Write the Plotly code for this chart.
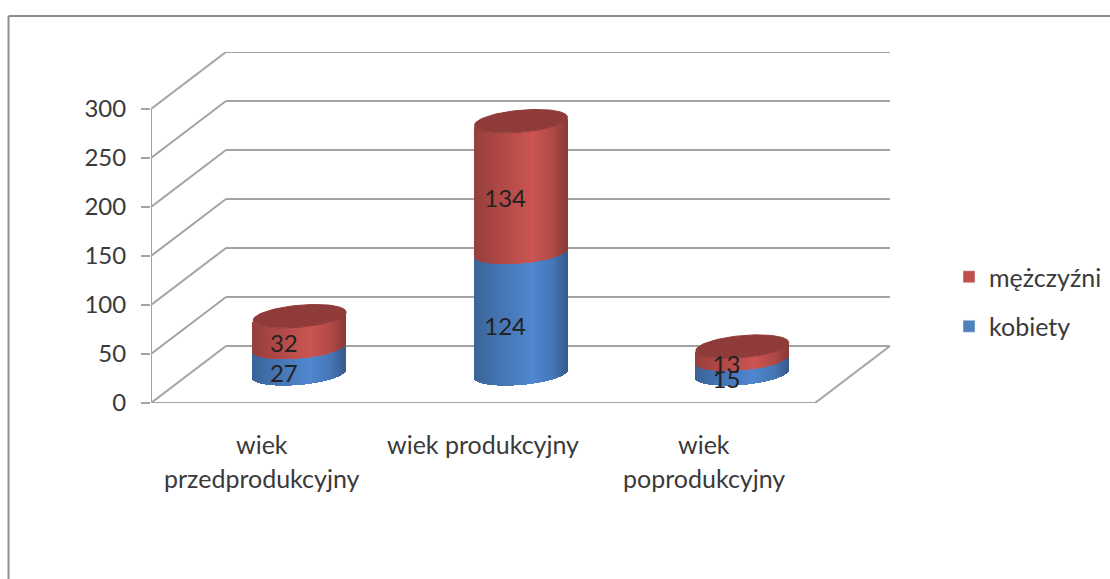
import plotly.graph_objects as go
import numpy as np

categories = ["wiek<br>przedprodukcyjny", "wiek produkcyjny", "wiek<br>poprodukcyjny"]
kobiety = [27, 124, 15]
mezczyzni = [32, 134, 13]
y_ticks = [0, 50, 100, 150, 200, 250, 300]

W, H = 1110, 579
L, R, T, B = 151, 891, 52, 403          # plot box in page pixels
PX_X = 221.33                           # pixels per category
PX_Y = 0.98                             # pixels per value unit
DX, DY = 75 / PX_X, 57 / PX_Y           # depth of the 3D box, data units
GRID = "#a3a3a3"

x_rng = [0, (R - L) / PX_X]
y_rng = [0, (B - T) / PX_Y]


def shade(rgb, t):
    """t from -1 to 1 across the cylinder face."""
    pts = [-1, -0.6, 0.25, 0.7, 1]
    fac = [0.78, 0.88, 1.06, 0.92, 0.72]
    f = float(np.interp(t, pts, fac))
    return "rgb(%d,%d,%d)" % tuple(min(255, int(c * f)) for c in rgb)


RED = (192, 80, 77)
BLUE = (76, 128, 196)
RED_TOP = "#8f3b39"

A = 46.5 / PX_X          # half width of cylinder
B_Y = 11 / PX_Y          # ellipse half height
K_Y = 4 / PX_Y           # ellipse tilt
BASE = 29 / PX_Y         # floor position of base centre
OFF_X = 38 / PX_X        # cylinder centre shift from the front category centre
STRIP = 1 / PX_X

fig = go.Figure()


def segment(color, bottoms, values):
    xs, bases, ys, cols = [], [], [], []
    for i, (b, v) in enumerate(zip(bottoms, values)):
        cx = i + 0.5 + OFF_X
        for u in np.arange(-1 + STRIP / A / 2, 1, STRIP / A):
            arc = -B_Y * np.sqrt(max(0, 1 - u * u)) + K_Y * u
            xs.append(cx + u * A)
            bases.append(BASE + b + arc)
            ys.append(v)
            cols.append(shade(color, u))
    fig.add_trace(go.Bar(x=xs, y=ys, base=bases, width=STRIP * 1.4,
                         marker=dict(color=cols, line=dict(width=0)),
                         showlegend=False, hoverinfo="skip"))


segment(BLUE, [0, 0, 0], kobiety)
segment(RED, kobiety, mezczyzni)

# top caps
for i, (k, m) in enumerate(zip(kobiety, mezczyzni)):
    th = np.linspace(0, 2 * np.pi, 90)
    cx = i + 0.5 + OFF_X
    fig.add_trace(go.Scatter(
        x=cx + A * np.cos(th),
        y=BASE + k + m + B_Y * np.sin(th) + K_Y * np.cos(th),
        mode="lines", fill="toself", fillcolor=RED_TOP,
        line=dict(width=1, color=RED_TOP), showlegend=False, hoverinfo="skip"))

# value labels
lab_x, lab_y, lab_t = [], [], []
for i, (k, m) in enumerate(zip(kobiety, mezczyzni)):
    lab_x += [i + 0.6, i + 0.6]
    lab_y += [k / 2 + 14, k + m / 2 + 15]
    lab_t += [str(k), str(m)]
fig.add_trace(go.Scatter(x=lab_x, y=lab_y, text=lab_t, mode="text",
                         textfont=dict(family="Lato", size=24, color="#222222"),
                         showlegend=False, hoverinfo="skip"))

# legend entries
fig.add_trace(go.Bar(x=[None], y=[None], name="mężczyźni", marker_color="#c0504d", legendgroup="m"))
fig.add_trace(go.Bar(x=[None], y=[None], name="kobiety", marker_color="#4f81bd", legendgroup="k"))

# 3D box, below the marks
shapes = []


def seg(x0, y0, x1, y1):
    shapes.append(dict(type="line", xref="x", yref="y", x0=x0, y0=y0, x1=x1, y1=y1,
                       layer="below", line=dict(color=GRID, width=2)))


for v in y_ticks:
    seg(0, v, DX, v + DY)
    seg(DX, v + DY, 3 + DX, v + DY)
seg(0, 0, 0, 300)
seg(0, 0, 3, 0)
seg(3, 0, 3 + DX, DY)
for i in range(4):
    seg(i, 0, i, -8 / PX_Y)


def page_x(px):
    return (px - L) / (R - L)


def page_y(py):
    return (B - py) / (B - T)


# outer frame of the picture
for x0, y0, x1, y1 in [(8.5, 16, 1110, 16), (8.5, 16, 8.5, 579)]:
    shapes.append(dict(type="line", xref="paper", yref="paper",
                       x0=page_x(x0), y0=page_y(y0), x1=page_x(x1), y1=page_y(y1),
                       line=dict(color="#8e8e8e", width=2)))

# category labels, one annotation per line
annotations = []
for i, c in enumerate(categories):
    for j, line in enumerate(c.split("<br>")):
        annotations.append(dict(x=i + 0.5, xref="x", y=0, yref="paper", yanchor="middle",
                                yshift=-(444 - B) - 34 * j, text=line, showarrow=False,
                                font=dict(family="Lato", size=25, color="#3a3a3a")))

fig.update_layout(
    width=W, height=H, autosize=False,
    margin=dict(l=L, r=W - R, t=T, b=H - B, pad=0, autoexpand=False),
    paper_bgcolor="white", plot_bgcolor="white",
    barmode="overlay", bargap=0,
    shapes=shapes, annotations=annotations,
    xaxis=dict(range=x_rng, showgrid=False, zeroline=False, showline=False,
               showticklabels=False, ticks=""),
    yaxis=dict(range=y_rng, tickvals=y_ticks, showgrid=False, zeroline=False, showline=False,
               ticks="outside", ticklen=9, tickwidth=2, tickcolor=GRID, ticklabelstandoff=10,
               tickfont=dict(family="Lato", size=24, color="#3a3a3a")),
    legend=dict(x=page_x(949), xanchor="left", y=page_y(254), yanchor="top",
                tracegroupgap=14, font=dict(family="Lato", size=25, color="#3a3a3a"),
                bgcolor="rgba(0,0,0,0)"),
)

fig.write_html("out.html", config=dict(displayModeBar=False),
               post_script="document.body.style.margin='0';document.body.style.overflow='hidden';")
